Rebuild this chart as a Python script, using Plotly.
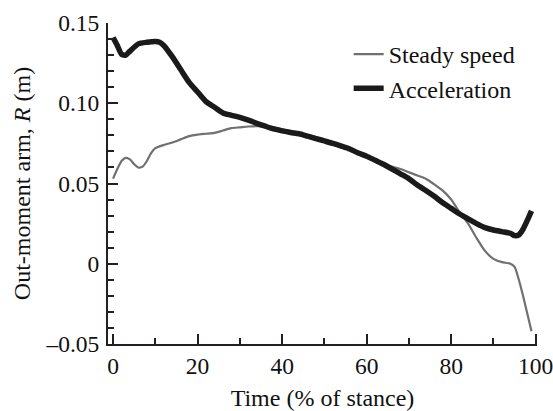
import plotly.graph_objects as go

# Data
accel_x = [0, 1, 2, 3, 4, 6, 8, 10, 11, 12, 14, 16, 18, 20, 22, 24, 26, 28, 30, 32, 34, 36, 38,
           40, 42, 44, 46, 48, 50, 52, 54, 56, 58, 60, 62, 64, 66, 68, 70, 72, 74, 76, 78, 80,
           82, 84, 86, 88, 90, 92, 94, 95, 96, 97, 98, 99]
accel_y = [0.141, 0.136, 0.1305, 0.130, 0.1325, 0.137, 0.138, 0.1385, 0.138, 0.136, 0.129, 0.121,
           0.113, 0.107, 0.101, 0.0975, 0.094, 0.0925, 0.0912, 0.0895, 0.0875, 0.0857, 0.084,
           0.0828, 0.0818, 0.081, 0.0795, 0.078, 0.0765, 0.075, 0.0733, 0.0715, 0.069, 0.067,
           0.0645, 0.062, 0.059, 0.056, 0.053, 0.049, 0.0456, 0.042, 0.038, 0.0345, 0.031,
           0.028, 0.025, 0.0225, 0.021, 0.020, 0.019, 0.0175, 0.018, 0.0215, 0.027, 0.033]

steady_x = [0, 1, 2, 3, 4, 5, 6, 7, 8, 9, 10, 12, 14, 16, 18, 20, 22, 24, 26, 28, 30, 32, 34, 36,
            38, 40, 44, 48, 52, 56, 60, 64, 66, 68, 70, 72, 74, 76, 78, 80, 82, 84, 86, 88, 90,
            92, 94, 95, 96, 97, 98, 99]
steady_y = [0.053, 0.059, 0.064, 0.066, 0.065, 0.062, 0.060, 0.0605, 0.064, 0.069, 0.072, 0.074,
            0.0755, 0.0775, 0.0795, 0.0805, 0.081, 0.0815, 0.083, 0.0845, 0.085, 0.0855, 0.0858,
            0.0855, 0.0848, 0.0838, 0.0815, 0.079, 0.0755, 0.072, 0.0675, 0.0625, 0.0605, 0.059,
            0.057, 0.055, 0.053, 0.0495, 0.0456, 0.040, 0.032, 0.025, 0.016, 0.008, 0.003, 0.001,
            0.0, -0.002, -0.010, -0.020, -0.031, -0.042]

x_ticks = [0, 20, 40, 60, 80, 100]
y_ticks = [-0.05, 0, 0.05, 0.10, 0.15]
y_tick_text = ["\u20130.05", "0", "0.05", "0.10", "0.15"]

FONT = "'Liberation Serif', 'Times New Roman', 'DejaVu Serif', serif"
AXC = "#231f20"
TXT = "#111111"

fig = go.Figure()
fig.add_trace(go.Scatter(x=steady_x, y=steady_y, mode="lines", name="Steady speed",
                         line=dict(color="#707070", width=2.2, shape="spline", smoothing=0.6)))
fig.add_trace(go.Scatter(x=accel_x, y=accel_y, mode="lines", name="Acceleration",
                         line=dict(color="#1a1a1a", width=5.5, shape="spline", smoothing=0.6)))

fig.update_layout(
    width=553, height=411,
    margin=dict(l=108, r=16, t=23, b=67),
    paper_bgcolor="white", plot_bgcolor="white",
    font=dict(family=FONT, size=23, color=TXT),
    showlegend=True,
    legend=dict(x=0.561, y=0.972, xanchor="left", yanchor="top",
                bgcolor="rgba(0,0,0,0)", borderwidth=0,
                font=dict(family=FONT, size=24, color=TXT)),
    xaxis=dict(range=[-1.2, 100.3], showgrid=False, zeroline=False, automargin=False,
               showline=True, linecolor=AXC, linewidth=2,
               ticks="inside", ticklen=10, tickwidth=2, tickcolor=AXC,
               tickvals=x_ticks, ticktext=[str(v) for v in x_ticks],
               ticklabeloverflow="allow",
               minor=dict(ticks="inside", ticklen=6, tickwidth=2, tickcolor=AXC,
                          tickvals=[10, 30, 50, 70, 90]),
               tickfont=dict(family=FONT, size=23.5, color=TXT),
               title=dict(text="Time (% of stance)", standoff=12,
                          font=dict(family=FONT, size=24, color=TXT))),
    yaxis=dict(range=[-0.05, 0.15], showgrid=False, zeroline=False, automargin=False,
               showline=True, linecolor=AXC, linewidth=2,
               ticks="inside", ticklen=10, tickwidth=2, tickcolor=AXC,
               tickvals=y_ticks, ticktext=y_tick_text, ticklabelstandoff=2,
               ticklabeloverflow="allow",
               minor=dict(ticks="inside", ticklen=6, tickwidth=2, tickcolor=AXC, dtick=0.01),
               tickfont=dict(family=FONT, size=23.5, color=TXT),
               title=dict(text="Out-moment arm, <i>R</i> (m)", standoff=8,
                          font=dict(family=FONT, size=24, color=TXT))),
)

fig.write_html("out.html")
